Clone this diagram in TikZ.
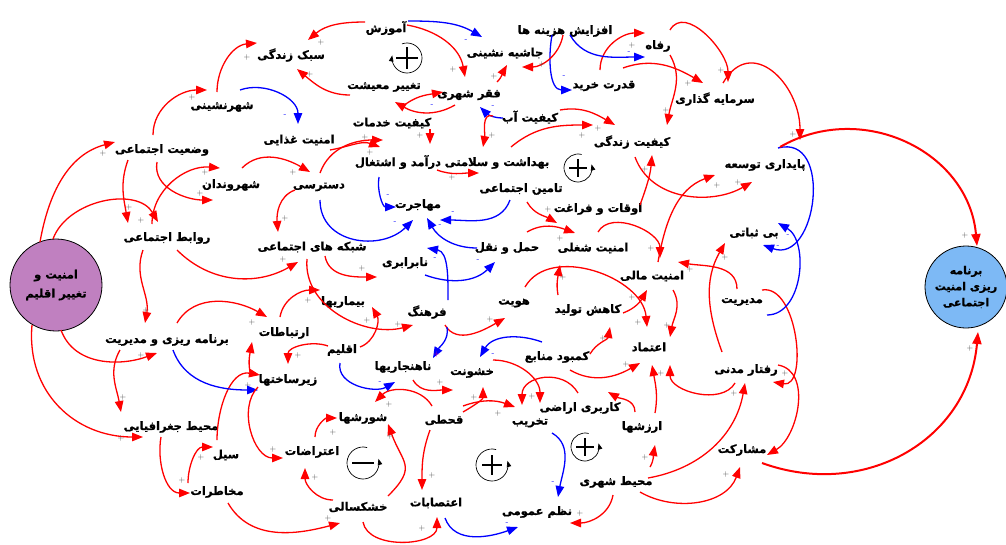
\documentclass[tikz,border=0pt]{standalone}
\usepackage{fontspec}
\TeXXeTstate=1
\newfontfamily\arabicfont[Script=Arabic,BoldFeatures={FakeBold=1}]{DejaVu Sans}
\usetikzlibrary{arrows.meta,calc}
\newcounter{sgc}
\newcommand\R[1]{\beginR #1\endR}
\newcommand\cn[6]{\draw[#1] ($(#2)+(#3)$) to[#6] ($(#4)+(#5)$);}
\newcommand\pl[2]{\stepcounter{sgc}\edef\sgname{sg\arabic{sgc}}\node[pls] (\sgname) at (#1,#2) {+};}
\newcommand\mn[2]{\stepcounter{sgc}\edef\sgname{sg\arabic{sgc}}\node[mns] (\sgname) at (#1,#2) {-};}
\definecolor{purp}{RGB}{192,128,192}
\definecolor{lblue}{RGB}{125,185,245}
\begin{document}
\begin{tikzpicture}[x=1pt,y=1pt,yscale=-1,
  lbl/.style={inner sep=1pt,font=\arabicfont\bfseries\fontsize{11.5}{13}\selectfont},
  rd/.style={draw=red,line width=1.3pt,-{Triangle[length=11pt,width=8.5pt]}},
  bl/.style={draw=blue,line width=1.3pt,-{Triangle[length=11pt,width=8.5pt]}},
  thk/.style={draw=red,line width=2pt,-{Triangle[length=12pt,width=9pt]}},
  pls/.style={inner sep=0pt,text=black!70,font=\fontsize{8}{8}\selectfont},
  mns/.style={inner sep=0pt,text=blue,font=\fontsize{8}{8}\selectfont},
  loopc/.style={draw=black,line width=0.7pt,-{Triangle[length=6pt,width=4.5pt]}},
  sym/.style={draw=black,line width=1.4pt}
]
\fill[white] (0,0) rectangle (1006,544);
\useasboundingbox (0,0) rectangle (1006,544);
% nodes
\node[lbl] (sabk) at (291,55) {\R{سبک زندگی}};
\node[lbl] (amoz) at (386,28) {\R{آموزش}};
\node[lbl] (hash) at (505,53) {\R{جاشیه نشینی}};
\node[lbl] (afz) at (565,31) {\R{افزایش هزینه ها}};
\node[lbl] (refah) at (658,46) {\R{رفاه}};
\node[lbl] (ghodrat) at (604,86) {\R{قدرت خرید}};
\node[lbl] (sarmaye) at (715,99) {\R{سرمایه گذاری}};
\node[lbl] (shahrn) at (222,107) {\R{شهرنشینی}};
\node[lbl] (taghir) at (384,87) {\R{تغییر معیشت}};
\node[lbl] (faghr) at (469,95) {\R{فقر شهری}};
\node[lbl] (khadamat) at (392,123) {\R{کیفیت خدمات}};
\node[lbl] (ab) at (530,117) {\R{کیفیت آب}};
\node[lbl] (zendegi) at (632,142) {\R{کیفیت زندگی}};
\node[lbl] (ghaza) at (299,140) {\R{امنیت غذایی}};
\node[lbl] (vaziat) at (162,150) {\R{وضعیت اجتماعی}};
\node[lbl] (paydari) at (765,165) {\R{پایداری توسعه}};
\node[lbl] (daramad) at (398,162) {\R{درآمد و اشتغال}};
\node[lbl] (behdasht) at (497,163) {\R{بهداشت و سلامتی}};
\node[lbl] (shahrvand) at (231,185) {\R{شهروندان}};
\node[lbl] (dastresi) at (319,187) {\R{دسترسی}};
\node[lbl] (tamin) at (521,189) {\R{تامین اجتماعی}};
\node[lbl] (oghat) at (598,209) {\R{اوقات و فراغت}};
\node[lbl] (mohajerat) at (418,205) {\R{مهاجرت}};
\node[lbl] (ravabet) at (167,238) {\R{روابط اجتماعی}};
\node[lbl] (shabake) at (312,247) {\R{شبکه های اجتماعی}};
\node[lbl] (haml) at (507,248) {\R{حمل و نقل}};
\node[lbl] (shoghli) at (593,248) {\R{امنیت شغلی}};
\node[lbl] (bisobat) at (754,233) {\R{بی ثباتی}};
\node[lbl] (nabarabari) at (405,263) {\R{نابرابری}};
\node[lbl] (mali) at (652,276) {\R{امنیت مالی}};
\node[lbl] (modiriat) at (742,302) {\R{مدیریت}};
\node[lbl] (bimari) at (343,302) {\R{بیماریها}};
\node[lbl] (farhang) at (427,312) {\R{فرهنگ}};
\node[lbl] (hoviat) at (514,303) {\R{هویت}};
\node[lbl] (kahesh) at (588,310) {\R{کاهش تولید}};
\node[lbl] (planman) at (167,340) {\R{برنامه ریزی و مدیریت}};
\node[lbl] (ertebat) at (284,333) {\R{ارتباطات}};
\node[lbl] (eghlim) at (342,350) {\R{اقلیم}};
\node[lbl] (etemad) at (649,347) {\R{اعتماد}};
\node[lbl] (kambod) at (557,357) {\R{کمبود منابع}};
\node[lbl] (nahanjar) at (403,367) {\R{ناهنجاریها}};
\node[lbl] (khoshonat) at (472,373) {\R{خشونت}};
\node[lbl] (raftar) at (746,370) {\R{رفتار مدنی}};
\node[lbl] (zirsakht) at (288,380) {\R{زیرساختها}};
\node[lbl] (karbari) at (580,408) {\R{کاربری اراضی}};
\node[lbl] (takhrib) at (530,423) {\R{تخریب}};
\node[lbl] (arzesh) at (642,427) {\R{ارزشها}};
\node[lbl] (shoresh) at (363,418) {\R{شورشها}};
\node[lbl] (ghahti) at (444,420) {\R{قحطی}};
\node[lbl] (mohit) at (171,427) {\R{محیط جغرافیایی}};
\node[lbl] (eteraz) at (312,452) {\R{اعتراضات}};
\node[lbl] (mosharekat) at (742,450) {\R{مشارکت}};
\node[lbl] (seil) at (226,455) {\R{سیل}};
\node[lbl] (mohitsh) at (616,482) {\R{محیط شهری}};
\node[lbl] (makhatarat) at (217,492) {\R{مخاطرات}};
\node[lbl] (etesab) at (436,503) {\R{اعتصابات}};
\node[lbl] (khoshk) at (358,507) {\R{خشکسالی}};
\node[lbl] (nazm) at (537,512) {\R{نظم عمومی}};
\node[circle,draw=black,line width=0.8pt,fill=purp,minimum size=92pt,inner sep=0pt,align=center,
  font=\arabicfont\bfseries\fontsize{11.5}{19}\selectfont] (A) at (56,285) {\R{امنیت و}\\\R{تغییر اقلیم}};
\node[circle,draw=black,line width=0.8pt,fill=lblue,minimum size=82pt,inner sep=0pt,align=center,
  font=\arabicfont\bfseries\fontsize{11}{16}\selectfont] (B) at (966,287) {\R{برنامه}\\\R{ریزی امنیت}\\\R{اجتماعی}};
% connectors
\cn{rd}{shahrn}{-5,-15}{sabk}{-34,-12}{out=-90,in=175} \pl{247}{57}
\cn{rd}{amoz}{-21,-6}{sabk}{17,-15}{out=180,in=-40} \pl{321}{42}
\cn{rd}{taghir}{-34,8}{sabk}{6,14}{out=180,in=40} \pl{310}{74}
\cn{bl}{shahrn}{18,-17}{ghaza}{-1,-16}{out=-20,in=-90} \mn{285}{116}
\cn{rd}{vaziat}{-9,-15}{shahrn}{-15,-17}{out=-90,in=180} \pl{192}{97}
\cn{rd}{A}{-16,-43}{vaziat}{-47,-8}{out=-80,in=165} \pl{103}{153}
\cn{rd}{vaziat}{-34,10}{ravabet}{-39,-15}{out=110,in=-100} \pl{129}{207}
\cn{rd}{A}{-3,-46}{ravabet}{-9,-16}{out=-70,in=-120} \pl{141}{220}
\cn{rd}{ravabet}{-15,-14}{shahrvand}{-11,-17}{out=-90,in=185} \pl{205}{172}
\cn{rd}{vaziat}{-5,12}{shahrvand}{-18,15}{out=100,in=180} \pl{200}{193}
\cn{rd}{shahrvand}{11,-17}{dastresi}{-9,-15}{out=-45,in=-150} \pl{293}{172}
\cn{rd}{dastresi}{-24,3}{shabake}{-34,-15}{out=160,in=-95} \pl{285}{218}
\cn{bl}{dastresi}{1,13}{mohajerat}{-5,15}{out=90,in=135,looseness=1.2} \mn{395}{223}
\cn{bl}{daramad}{-19,15}{mohajerat}{-22,2}{out=100,in=180} \mn{388}{196}
\cn{bl}{tamin}{-11,11}{mohajerat}{22,15}{out=110,in=0} \mn{453}{213}
\cn{bl}{haml}{-30,0}{mohajerat}{9,13}{out=180,in=60} \mn{440}{226}
\cn{bl}{farhang}{21,-12}{nabarabari}{22,-15}{out=-90,in=10} \mn{435}{259}
\cn{bl}{nabarabari}{20,12}{haml}{-12,14}{out=20,in=135} \mn{478}{261}
\cn{rd}{shabake}{13,9}{nabarabari}{-28,14}{out=80,in=180} \pl{362}{268}
\cn{rd}{ravabet}{10,12}{shabake}{-14,15}{out=45,in=150} \pl{283}{259}
\cn{rd}{ravabet}{-24,12}{planman}{-22,-17}{out=110,in=-80} \pl{146}{310}
\cn{rd}{A}{5,45}{planman}{-10,13}{out=70,in=160} \pl{141}{355}
\cn{rd}{planman}{-47,10}{mohit}{-50,-15}{out=120,in=-100} \pl{123}{397}
\cn{rd}{A}{-24,40}{mohit}{-28,10}{out=95,in=180,looseness=1.1} \pl{121}{438}
\cn{rd}{mohit}{-10,10}{makhatarat}{-27,1}{out=100,in=180} \pl{182}{480}
\cn{rd}{makhatarat}{-29,-9}{seil}{-13,-8}{out=-90,in=180} \pl{201}{457}
\cn{rd}{seil}{-9,-15}{zirsakht}{-28,-5}{out=-90,in=190} \pl{248}{385}
\cn{bl}{planman}{6,10}{zirsakht}{-30,10}{out=70,in=180}
\cn{rd}{zirsakht}{-30,7}{eteraz}{-29,6}{out=135,in=180} \pl{273}{449}
\cn{rd}{eghlim}{-14,-4}{zirsakht}{0,-16}{out=200,in=-90} \pl{298}{355}
\cn{rd}{zirsakht}{-38,-8}{ertebat}{-32,9}{out=-100,in=100}
\cn{rd}{planman}{10,-17}{ertebat}{-17,-16}{out=-60,in=-150} \pl{252}{322}
\cn{rd}{ertebat}{-4,-16}{bimari}{-23,-12}{out=-80,in=180} \pl{308}{300}
\cn{rd}{shabake}{-5,12}{farhang}{-14,13}{out=95,in=165} \pl{398}{324}
\cn{rd}{eghlim}{18,-3}{bimari}{29,5}{out=-20,in=60} \pl{367}{320}
\cn{rd}{farhang}{18,13}{hoviat}{-9,15}{out=60,in=150} \pl{490}{319}
\cn{bl}{farhang}{20,15}{nahanjar}{30,-9}{out=80,in=-60}
\node[inner sep=0pt,text=magenta,font=\fontsize{8}{8}\selectfont] (mg) at (437,354) {+};
\cn{bl}{eghlim}{-2,13}{nahanjar}{-8,15}{out=100,in=150} \mn{380}{383}
\cn{bl}{kambod}{-15,-15}{khoshonat}{8,-16}{out=200,in=-60} \mn{493}{355}
\cn{rd}{nahanjar}{10,13}{khoshonat}{-19,17}{out=60,in=180} \pl{440}{382}
\cn{rd}{ghahti}{-12,-14}{shoresh}{12,-16}{out=-120,in=-45} \pl{389}{404}
\cn{rd}{ghahti}{19,-8}{khoshonat}{11,14}{out=-30,in=90} \pl{474}{397}
\cn{rd}{ghahti}{19,-14}{takhrib}{-15,-16}{out=-20,in=-160} \pl{498}{413}
\cn{rd}{khoshonat}{21,-13}{takhrib}{10,-20}{out=0,in=-90} \pl{532}{396}
\cn{rd}{karbari}{-2,-15}{takhrib}{-8,-18}{out=-120,in=-90,looseness=1.3}
\cn{rd}{kambod}{13,13}{etemad}{-9,16}{out=30,in=150} \pl{626}{364}
\cn{rd}{arzesh}{-7,-15}{karbari}{28,-16}{out=-90,in=30}
\cn{rd}{arzesh}{13,-14}{etemad}{3,18}{out=-80,in=80} \pl{661}{373}
\cn{rd}{raftar}{-11,13}{etemad}{21,18}{out=120,in=90}
\cn{rd}{mohitsh}{32,-4}{raftar}{-1,13}{out=-10,in=100} \pl{734}{393}
\cn{rd}{mohitsh}{24,10}{mosharekat}{-2,17}{out=30,in=110} \pl{726}{474}
\cn{rd}{raftar}{32,-5}{mosharekat}{25,5}{out=10,in=-30}
\cn{rd}{modiriat}{20,-12}{raftar}{27,12}{out=-10,in=10} \pl{785}{373}
\cn{rd}{modiriat}{-5,-13}{mali}{26,-14}{out=-90,in=10} \pl{690}{269}
\cn{bl}{modiriat}{25,13}{bisobat}{24,-10}{out=0,in=30} \mn{788}{236}
\cn{bl}{paydari}{13,-17}{bisobat}{9,12}{out=-15,in=20,looseness=1.5} \mn{778}{247}
\cn{rd}{raftar}{-24,-18}{bisobat}{-29,10}{out=-110,in=120} \pl{725}{257}
\cn{rd}{mali}{21,14}{etemad}{21,-10}{out=60,in=-80} \pl{667}{325}
\cn{rd}{kahesh}{35,3}{mali}{-5,14}{out=-20,in=120} \pl{632}{297}
\cn{rd}{kahesh}{-30,-15}{shoghli}{-33,17}{out=-100,in=100} \pl{563}{277}
\cn{rd}{hoviat}{11,-16}{etemad}{-2,-20}{out=-60,in=-95} \pl{638}{322}
\cn{rd}{kambod}{33,-3}{kahesh}{22,17}{out=-60,in=100} \pl{603}{338}
\cn{rd}{shoghli}{5,-16}{mali}{8,-18}{out=-60,in=-90} \pl{651}{248}
\cn{rd}{haml}{20,-16}{shoghli}{-18,-15}{out=-30,in=-160} \pl{560}{238}
\cn{rd}{tamin}{6,13}{shoghli}{-36,-25}{out=60,in=-150} \pl{548}{209}
\cn{rd}{oghat}{42,-4}{zendegi}{20,13}{out=-70,in=95} \pl{645}{169}
\cn{rd}{zendegi}{3,15}{paydari}{-13,17}{out=70,in=150} \pl{738}{182}
\cn{rd}{mali}{6,-14}{paydari}{-50,10}{out=-80,in=160} \pl{717}{185}
\cn{rd}{refah}{12,9}{zendegi}{35,-17}{out=60,in=-80} \pl{666}{110}
\cn{rd}{refah}{12,-16}{sarmaye}{13,-17}{out=-60,in=-90} \pl{721}{70}
\cn{rd}{ghodrat}{-4,-16}{refah}{-13,-13}{out=-90,in=180} \pl{632}{45}
\cn{rd}{ghodrat}{19,-18}{sarmaye}{-12,-16}{out=-20,in=-150} \pl{688}{83}
\cn{bl}{afz}{5,4}{refah}{-13,11}{out=60,in=180} \mn{629}{53}
\cn{bl}{afz}{-13,4}{ghodrat}{-32,4}{out=100,in=180} \mn{564}{77}
\cn{rd}{afz}{-2,4}{hash}{17,14}{out=100,in=0} \pl{542}{64}
\cn{rd}{faghr}{28,-13}{hash}{2,12}{out=-45,in=120} \pl{494}{76}
\cn{bl}{amoz}{22,-7}{hash}{-23,-16}{out=0,in=-150} \mn{466}{41}
\cn{rd}{amoz}{21,-3}{faghr}{-4,-18}{out=10,in=-100} \pl{453}{69}
\cn{rd}{taghir}{18,20}{faghr}{-26,-3}{out=-40,in=170}
\cn{rd}{faghr}{-14,10}{taghir}{11,15}{out=150,in=30} \mn{432}{106}
\cn{bl}{ab}{-27,1}{faghr}{11,12}{out=180,in=45} \mn{493}{107}
\cn{rd}{ab}{-37,-1}{behdasht}{-14,-16}{out=200,in=-80} \pl{492}{135}
\cn{rd}{ab}{30,-7}{zendegi}{-17,-17}{out=-10,in=-150} \pl{598}{128}
\cn{rd}{behdasht}{14,-16}{zendegi}{-39,-17}{out=-40,in=180} \pl{582}{135}
\cn{rd}{daramad}{39,8}{behdasht}{-18,10}{out=20,in=180} \pl{452}{177}
\cn{rd}{khadamat}{38,6}{daramad}{32,-18}{out=90,in=-90} \pl{420}{135}
\cn{rd}{dastresi}{1,-14}{khadamat}{-9,17}{out=-70,in=180} \pl{370}{152}
\cn{rd}{ghaza}{31,10}{daramad}{-18,-15}{out=-10,in=-160} \pl{365}{137}
\cn{thk}{paydari}{15,-18}{B}{11,-41}{out=-30,in=-95,looseness=1.1} \pl{965}{235}
\cn{thk}{mosharekat}{20,13}{B}{12,45}{out=20,in=95,looseness=1.1} \pl{970}{348}
\cn{rd}{sarmaye}{8,-16}{paydari}{35,-25}{out=-60,in=-90,looseness=1.5} \pl{793}{134}
\cn{rd}{khoshk}{30,-11}{shoresh}{25,6}{out=-45,in=70,looseness=1.5} \pl{390}{436}
\cn{rd}{eteraz}{3,-15}{shoresh}{-26,0}{out=-90,in=180} \pl{333}{432}
\cn{rd}{khoshk}{-25,-7}{eteraz}{-7,16}{out=180,in=90} \pl{315}{477}
\cn{rd}{makhatarat}{11,11}{khoshk}{-18,16}{out=60,in=165} \pl{328}{518}
\cn{rd}{khoshk}{5,15}{etesab}{1,14}{out=80,in=90} \pl{422}{528}
\cn{rd}{ghahti}{-14,10}{etesab}{-14,-13}{out=110,in=-90} \pl{432}{475}
\cn{bl}{etesab}{9,15}{nazm}{-19,15}{out=70,in=160} \mn{507}{523}
\cn{bl}{takhrib}{22,10}{nazm}{21,-15}{out=30,in=-80} \mn{553}{482}
\cn{rd}{mohitsh}{-3,13}{nazm}{33,11}{out=100,in=0} \pl{580}{513}
\cn{rd}{mohitsh}{34,-15}{arzesh}{13,18}{out=-60,in=100} \pl{645}{457}
% loop symbols
\coordinate (L1) at (407,58);
\coordinate (L2) at (578,168);
\coordinate (L3) at (585,447);
\coordinate (L4) at (492,465);
\coordinate (L5) at (363,463);
\draw[loopc] ($(L1)+(-110:15)$) arc[start angle=-110,end angle=190,radius=15];
\draw[sym] ($(L1)+(-11,0)$) -- ($(L1)+(11,0)$); \draw[sym] ($(L1)+(0,-11)$) -- ($(L1)+(0,11)$);
\draw[loopc] ($(L2)+(285:14)$) arc[start angle=285,end angle=-15,radius=14];
\draw[sym] ($(L2)+(-9,0)$) -- ($(L2)+(9,0)$); \draw[sym] ($(L2)+(0,-9)$) -- ($(L2)+(0,9)$);
\draw[loopc] ($(L3)+(285:14)$) arc[start angle=285,end angle=-15,radius=14];
\draw[sym] ($(L3)+(-9,0)$) -- ($(L3)+(9,0)$); \draw[sym] ($(L3)+(0,-9)$) -- ($(L3)+(0,9)$);
\draw[loopc] ($(L4)+(285:16)$) arc[start angle=285,end angle=-15,radius=16];
\draw[sym] ($(L4)+(-10,0)$) -- ($(L4)+(10,0)$); \draw[sym] ($(L4)+(0,-10)$) -- ($(L4)+(0,10)$);
\draw[loopc] ($(L5)+(285:16)$) arc[start angle=285,end angle=-15,radius=16];
\draw[sym] ($(L5)+(-11,0)$) -- ($(L5)+(11,0)$);
\end{tikzpicture}
\end{document}
